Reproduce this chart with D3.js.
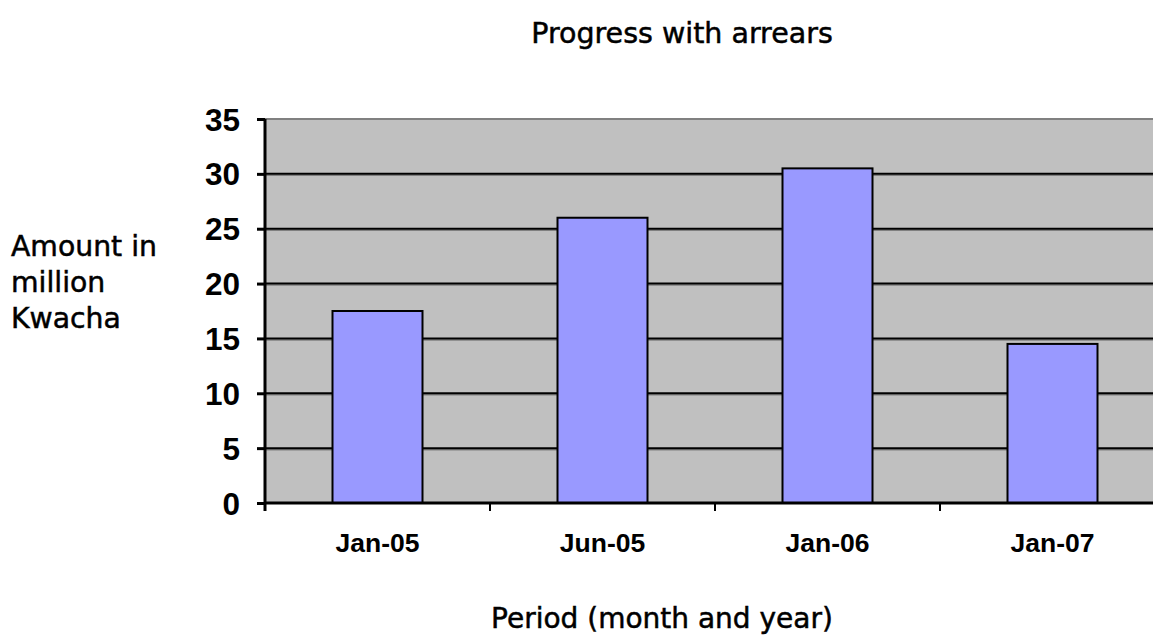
<!DOCTYPE html>
<html><head><meta charset="utf-8">
<script src="https://cdn.jsdelivr.net/npm/d3@7"></script>
<style>body{margin:0;background:#fff;overflow:hidden}svg{display:block}</style>
</head><body>
<script>
const categories = ["Jan-05", "Jun-05", "Jan-06", "Jan-07"];
const values = [17.5, 26, 30.5, 14.5];
const yTicks = [0, 5, 10, 15, 20, 25, 30, 35];
const title = "Progress with arrears";
const yLabelLines = ["Amount in", "million", "Kwacha"];
const xLabel = "Period (month and year)";

const W = 1153, H = 637;
const svg = d3.select("body").append("svg").attr("width", W).attr("height", H);
const L = 265, R = 1165, T = 119, B = 503;
const x = d3.scaleBand().domain(categories).range([L, R]).paddingInner(0).paddingOuter(0);
const y = d3.scaleLinear().domain([0, 35]).range([B, T]);

svg.append("rect").attr("x", L).attr("y", T).attr("width", R - L).attr("height", B - T).attr("fill", "#c0c0c0");
svg.append("line").attr("x1", L).attr("x2", R).attr("y1", T).attr("y2", T).attr("stroke", "#808080").attr("stroke-width", 2);
yTicks.filter(d => d > 0 && d < 35).forEach(d => {
  svg.append("line").attr("x1", L).attr("x2", R).attr("y1", y(d) + 1.5).attr("y2", y(d) + 1.5).attr("stroke", "#808080").attr("stroke-width", 1.5);
  svg.append("line").attr("x1", L).attr("x2", R).attr("y1", y(d)).attr("y2", y(d)).attr("stroke", "#000").attr("stroke-width", 2);
});
const bw = x.bandwidth() * 0.4;
svg.selectAll("rect.bar").data(values).enter().append("rect").attr("class", "bar")
  .attr("x", (d, i) => x(categories[i]) + x.bandwidth() / 2 - bw / 2)
  .attr("y", d => y(d)).attr("width", bw).attr("height", d => B - y(d))
  .attr("fill", "#9999ff").attr("stroke", "#000").attr("stroke-width", 2);

const yAxis = svg.append("g").attr("transform", `translate(${L},0)`)
  .call(d3.axisLeft(y).tickValues(yTicks).tickSize(8).tickPadding(17));
yAxis.select(".domain").attr("stroke", "#000").attr("stroke-width", 3).attr("d", `M0,${T}V${B + 8}`);
yAxis.selectAll(".tick line").attr("stroke", "#000").attr("stroke-width", 3);
yAxis.selectAll(".tick text").attr("font-family", "Liberation Sans, Arial, sans-serif").attr("font-weight", "bold").attr("font-size", 31.5).attr("fill", "#000").attr("dy", "0.35em");

const xAxis = svg.append("g").attr("transform", `translate(0,${B})`);
xAxis.append("line").attr("x1", L).attr("x2", R).attr("y1", 0).attr("y2", 0).attr("stroke", "#000").attr("stroke-width", 3);
categories.forEach(c => {
  xAxis.append("line").attr("x1", x(c)).attr("x2", x(c)).attr("y1", 0).attr("y2", 8).attr("stroke", "#000").attr("stroke-width", 2);
});
xAxis.selectAll("text.cat").data(categories).enter().append("text").attr("class", "cat")
  .attr("x", d => x(d) + x.bandwidth() / 2).attr("y", 49).attr("text-anchor", "middle")
  .attr("font-family", "Liberation Sans, Arial, sans-serif").attr("font-weight", "bold").attr("font-size", 26.5).text(d => d);

const heavy = sel => sel.attr("stroke", "#000").attr("stroke-width", 0.5);
svg.append("text").attr("x", 682).attr("y", 43).attr("text-anchor", "middle")
  .attr("font-family", "DejaVu Sans, sans-serif").attr("font-size", 28.5).call(heavy).text(title);
svg.selectAll("text.yl").data(yLabelLines).enter().append("text").attr("class", "yl")
  .attr("x", 11).attr("y", (d, i) => 256 + i * 36)
  .attr("font-family", "DejaVu Sans, sans-serif").attr("font-size", 28.3).call(heavy).text(d => d);
svg.append("text").attr("x", 662).attr("y", 628).attr("text-anchor", "middle")
  .attr("font-family", "DejaVu Sans, sans-serif").attr("font-size", 28).call(heavy).text(xLabel);
</script>
</body></html>
